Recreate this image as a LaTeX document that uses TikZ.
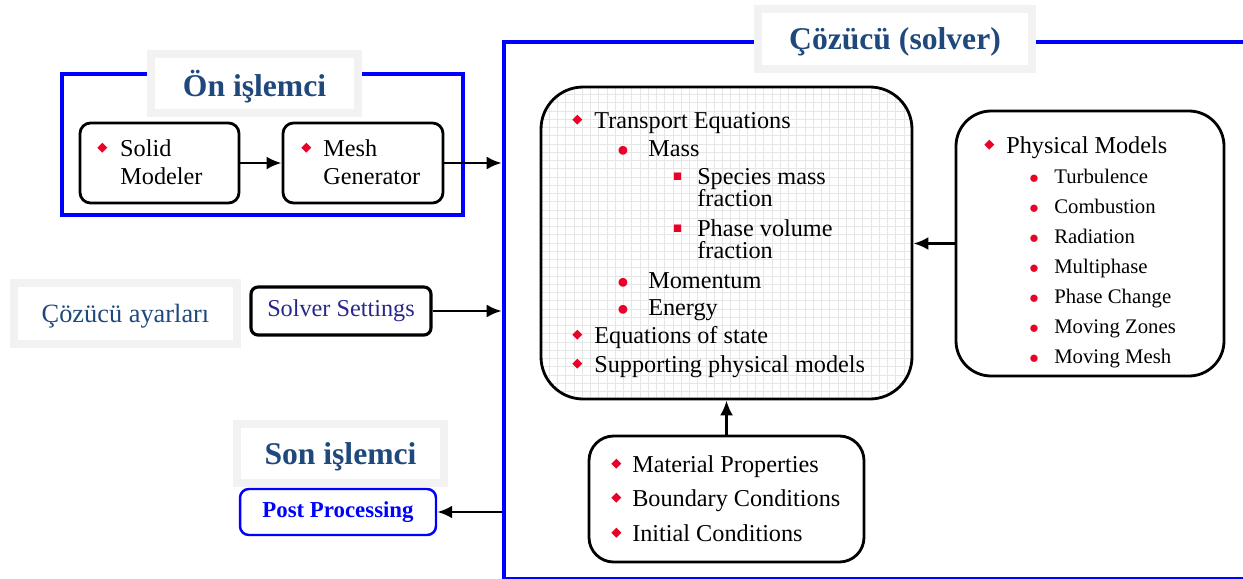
\documentclass[tikz,border=0pt]{standalone}
\usepackage{fontspec}
\usepackage{amssymb}
\setmainfont{Liberation Serif}
\usetikzlibrary{positioning, fit, arrows.meta}
\definecolor{headblue}{RGB}{31,73,125}
\definecolor{navytext}{RGB}{40,40,140}
\definecolor{bulletred}{RGB}{235,0,40}
\definecolor{titlegray}{RGB}{242,242,242}
\definecolor{gridgray}{RGB}{230,230,230}
\tikzset{
	frame/.style= {
		draw=blue,
		line width=2.6pt,
		inner sep=0
	},
	panel/.style= {
		draw,
		line width=1.6pt,
		rounded corners=6pt,
		inner sep=0,
		fill=white
	},
	gridpanel/.style= {
		panel,
		rounded corners=24pt,
		path picture={\draw[gridgray, line width=0.4pt] (path picture bounding box.south west) grid[step=0.165cm] (path picture bounding box.north east);}
	},
	titlebox/.style= {
		draw=titlegray,
		line width=4.5pt,
		fill=white,
		inner sep=0,
		text depth=0pt,
		text=headblue,
		font=\fontsize{18}{20}\selectfont\bfseries
	},
	entry/.style= {anchor=base west, inner sep=0, font=\fontsize{13.8}{16}\selectfont},
	subentry/.style= {entry, font=\fontsize{11.8}{14}\selectfont},
	arrow/.style= {-{Latex[length=3mm, width=2.6mm]}, line width=1.6pt},
}
% red bullets, #1 = room left before the text
\newcommand{\bdia}[1]{\makebox[#1][l]{\textcolor{bulletred}{\raisebox{.3ex}{\rotatebox{45}{\rule{4pt}{4pt}}}}}}
\newcommand{\bdot}[1]{\makebox[#1][l]{\textcolor{bulletred}{\scalebox{.9}{$\bullet$}}}}
\newcommand{\bsq}[1]{\makebox[#1][l]{\textcolor{bulletred}{\raisebox{.3ex}{\scalebox{.45}{$\blacksquare$}}}}}

\begin{document}
\begin{tikzpicture}[x=0.02cm, y=-0.02cm]
	\useasboundingbox (0,0) rectangle (1243,578);

	% outer frames
	\node (prebox) [frame, fit={(62,74) (463,215)}] {};
	\node (solver) [frame, fit={(504,42) (1245,579)}] {};

	\node (pretitle) [titlebox, minimum width=4.14cm, minimum height=1.18cm] at (254.5,83.5) {Ön işlemci};
	\node (soltitle) [titlebox, minimum width=5.48cm, minimum height=1.2cm] at (895,39) {Çözücü (solver)};
	\node (settitle) [titlebox, minimum width=4.46cm, minimum height=1.22cm, font=\fontsize{15}{17}\selectfont] at (125.5,313.5) {Çözücü ayarları};
	\node (posttitle) [titlebox, minimum width=4.14cm, minimum height=1.18cm] at (340.5,453.5) {Son işlemci};

	% pre-processing
	\node (solid) [panel, fit={(80,123) (239,203)}] {};
	\node (mesh) [panel, fit={(283,123) (443,203)}] {};
	\node (solid-1) [entry] at (97,156) {\bdia{13pt}Solid};
	\node (solid-2) [entry] at (120,184) {Modeler};
	\node (mesh-1) [entry] at (301,156) {\bdia{12.5pt}Mesh};
	\node (mesh-2) [entry] at (323,184) {Generator};

	\node (settings) [panel, line width=1.8pt, rounded corners=4pt, minimum width=3.6cm, minimum height=0.96cm, text=navytext, font=\fontsize{13.8}{16}\selectfont] at (341,311) {Solver Settings};
	\node (post) [panel, draw=blue, line width=1.4pt, rounded corners=5pt, minimum width=3.92cm, minimum height=0.92cm, text=blue, font=\fontsize{13}{15}\selectfont\bfseries] at (338,512) {Post Processing};

	% solver contents
	\node (transport) [gridpanel, fit={(541,87) (912,399)}] {};
	\node (physical) [panel, rounded corners=20pt, fit={(956,111) (1224,376)}] {};
	\node (material) [panel, rounded corners=14pt, fit={(589,436) (864,562)}] {};

	\foreach \x/\y/\txt [count=\i] in {
		572/128/\bdia{12.5pt}Transport Equations,
		617/156/\bdot{17.6pt}Mass,
		673/184/\bsq{13.6pt}Species mass,
		697/206.5/fraction,
		673/236/\bsq{13.6pt}Phase volume,
		697/258.5/fraction,
		617/288/\bdot{17.6pt}Momentum,
		617/315/\bdot{17.6pt}Energy,
		572/343/\bdia{12.5pt}Equations of state,
		572/372/\bdia{12.5pt}Supporting physical models}
		\node (eq-\i) [entry] at (\x,\y) {\txt};

	\node (phys) [entry] at (984,153) {\bdia{12.5pt}Physical Models};
	\foreach \txt [count=\i] in {Turbulence, Combustion, Radiation, Multiphase, Phase Change, Moving Zones, Moving Mesh}
		\node (phys-\i) [subentry] at (1029,153+30*\i) {\bdot{14.2pt}\txt};

	\foreach \y/\txt [count=\i] in {472/Material Properties, 506/Boundary Conditions, 541/Initial Conditions}
		\node (mat-\i) [entry] at (611,\y) {\bdia{11.9pt}\txt};

	% connectors
	\draw[arrow] (solid.east) -- (mesh.west);
	\draw[arrow] (mesh.east) -- (mesh.east -| solver.west);
	\draw[arrow] (settings.east) -- (settings.east -| solver.west);
	\draw[arrow] (post.east -| solver.west) -- (post.east);
	\draw[arrow] (physical.west) -- (physical.west -| transport.east);
	\draw[arrow] (material.north) -- (material.north |- transport.south);
\end{tikzpicture}
\end{document}
